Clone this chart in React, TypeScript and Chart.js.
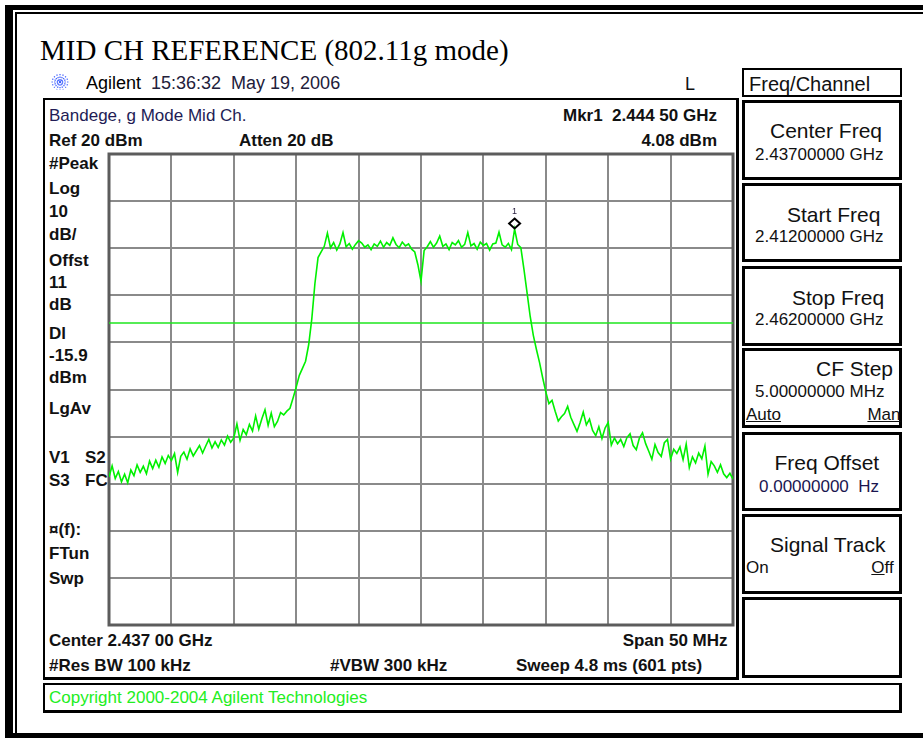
import React, { useEffect, useRef } from "react";
import { Chart, registerables } from "chart.js";

Chart.register(...registerables);

// ---- sweep settings ----
const START_MHZ = 2412;
const STOP_MHZ = 2462;
const STEP_MHZ = 0.25;
const GRID_FREQS_MHZ = [2412, 2417, 2422, 2427, 2432, 2437, 2442, 2447, 2452, 2457, 2462];
const REF_LEVEL_DBM = 20;
const BOTTOM_DBM = -80;
const GRID_LEVELS_DBM = [20, 10, 0, -10, -20, -30, -40, -50, -60, -70, -80];
const DISPLAY_LINE_DBM = -15.9;
const MARKER_FREQ_MHZ = 2444.5;
const MARKER_DBM = 4.08;

// ---- trace levels (dBm), one per 0.25 MHz from 2412 to 2462 MHz ----
const LEVELS_LEFT_SKIRT = [
  -48.6, -46.2, -48.9, -47.4, -49.6, -48.0, -49.8, -47.1, -48.3, -46.0,
  -47.6, -46.3, -47.9, -45.2, -46.8, -45.0, -46.5, -44.3, -45.7, -44.0,
  -45.1, -43.6, -47.6, -44.2, -43.3, -44.8, -42.6, -44.1, -43.0, -41.9,
  -43.5, -42.0, -40.6, -42.4, -41.1, -42.3, -40.7, -41.8, -39.9, -41.2,
  -40.3, -37.3, -40.8, -38.5, -39.6, -37.4, -38.8, -35.6, -38.4, -36.2,
  -34.3, -37.6, -35.0, -37.9, -36.8, -34.9, -35.4, -34.6, -34.0, -31.8,
];
const LEVELS_RISE = [-29.5, -27.0, -25.5, -24.0, -20.5, -15.0, -7.5, -2.0];
const LEVELS_PLATEAU = [
  -0.8, 0.4, 3.2, 0.1, 1.2, -0.4, 0.9, 3.3, 0.3, 1.0,
  -0.2, 0.8, 1.6, 1.1, 0.2, 0.7, -0.3, 0.9, 0.4, 1.5,
  0.2, 1.2, 0.6, 2.2, 0.8, 0.1, 1.3, 0.5, 0.9, -0.2,
  -0.8, -3.5, -7.0, -0.5, 0.3, 1.4, 0.2, 1.1, 2.6, 0.4,
  0.9, -0.3, 1.2, 0.7, 1.6, 0.2, 0.8, 3.3, 0.5, 1.0,
  -0.2, 1.3, 0.6, 1.0, -0.4, 0.9, 1.1, 3.4, 0.7, 0.2,
  1.0, -0.3, 4.08, 0.8, 0.1,
];
const LEVELS_FALL = [-4.5, -9.5, -14.5, -18.5, -21.5, -24.3, -27.5, -30.5];
const LEVELS_RIGHT_SKIRT = [
  -33.0, -32.3, -34.6, -36.7, -35.8, -35.1, -33.6, -35.9, -37.4, -38.9,
  -37.0, -34.8, -37.5, -36.3, -38.7, -39.8, -37.9, -40.4, -38.2, -37.0,
  -41.8, -40.3, -41.5, -40.6, -42.1, -40.2, -39.4, -41.9, -42.8, -40.3,
  -39.2, -41.5, -43.1, -44.8, -41.7, -43.4, -44.2, -41.3, -40.6, -44.8,
  -42.7, -43.6, -42.2, -44.9, -41.6, -46.6, -44.3, -45.6, -43.5, -44.7,
  -42.0, -48.0, -45.3, -46.2, -47.6, -46.0, -47.9, -48.7, -47.8, -49.0,
];
const LEVELS_DBM = [
  ...LEVELS_LEFT_SKIRT,
  ...LEVELS_RISE,
  ...LEVELS_PLATEAU,
  ...LEVELS_FALL,
  ...LEVELS_RIGHT_SKIRT,
];

const SANS = '"Liberation Sans", Arial, Helvetica, sans-serif';
const SERIF = '"Liberation Serif", "Times New Roman", serif';
const W = 923;
const H = 738;
const TRACE_GREEN = "#00f000";

type TP = {
  x: number;
  b: number;
  size?: number;
  bold?: boolean;
  color?: string;
  right?: boolean;
  serif?: boolean;
  underline?: boolean;
  children: React.ReactNode;
};

function T({ x, b, size = 17, bold = false, color = "#111", right = false, serif = false, underline = false, children }: TP) {
  const k = serif ? 0.8375 : 0.8465;
  const style: React.CSSProperties = {
    position: "absolute",
    top: b - size * k,
    fontFamily: serif ? SERIF : SANS,
    fontSize: size,
    lineHeight: `${size}px`,
    fontWeight: bold ? 700 : 400,
    color,
    whiteSpace: "pre",
    textDecoration: underline ? "underline" : "none",
  };
  if (right) style.right = W - x;
  else style.left = x;
  return <div style={style}>{children}</div>;
}

function Box({ l, t, r, b, w = 2, wr = 3 }: { l: number; t: number; r: number; b: number; w?: number; wr?: number }) {
  return (
    <div
      style={{
        position: "absolute",
        left: l,
        top: t,
        width: r - l,
        height: b - t,
        boxSizing: "border-box",
        borderStyle: "solid",
        borderColor: "#000",
        borderTopWidth: w,
        borderLeftWidth: w,
        borderRightWidth: wr,
        borderBottomWidth: wr,
        background: "#fff",
      }}
    />
  );
}

function Rect({ l, t, w, h, c = "#000" }: { l: number; t: number; w: number; h: number; c?: string }) {
  return <div style={{ position: "absolute", left: l, top: t, width: w, height: h, background: c }} />;
}

const markerPlugin = {
  id: "markerAndFrame",
  beforeDatasetsDraw(chart: any) {
    const { ctx, chartArea } = chart;
    ctx.save();
    ctx.strokeStyle = "#5c5c5c";
    ctx.lineWidth = 3;
    ctx.strokeRect(chartArea.left, chartArea.top, chartArea.right - chartArea.left, chartArea.bottom - chartArea.top);
    ctx.restore();
  },
  afterDatasetsDraw(chart: any) {
    const { ctx } = chart;
    const px = chart.scales.x.getPixelForValue(MARKER_FREQ_MHZ);
    const py = chart.scales.y.getPixelForValue(MARKER_DBM);
    const cy = py - 5.5;
    ctx.save();
    ctx.strokeStyle = "#000";
    ctx.lineWidth = 2;
    ctx.beginPath();
    ctx.moveTo(px, cy - 5);
    ctx.lineTo(px + 5.5, cy);
    ctx.lineTo(px, cy + 5);
    ctx.lineTo(px - 5.5, cy);
    ctx.closePath();
    ctx.stroke();
    ctx.fillStyle = "#2a2040";
    ctx.font = `9px ${SANS}`;
    ctx.textAlign = "center";
    ctx.textBaseline = "alphabetic";
    ctx.fillText("1", px, cy - 9);
    ctx.restore();
  },
};

function Spectrum() {
  const ref = useRef<HTMLCanvasElement | null>(null);
  useEffect(() => {
    if (!ref.current) return;
    const trace = LEVELS_DBM.map((v, i) => ({ x: START_MHZ + i * STEP_MHZ, y: v }));
    const dl = [
      { x: START_MHZ, y: DISPLAY_LINE_DBM },
      { x: STOP_MHZ, y: DISPLAY_LINE_DBM },
    ];
    const gridOpts = { color: "#8a8a8a", lineWidth: 2, drawTicks: false };
    const chart = new Chart(ref.current, {
      type: "line",
      data: {
        datasets: [
          { data: trace, borderColor: TRACE_GREEN, borderWidth: 1.6, pointRadius: 0, tension: 0, fill: false },
          { data: dl, borderColor: "#1ee61e", borderWidth: 1.5, pointRadius: 0, tension: 0, fill: false },
        ],
      },
      options: {
        responsive: false,
        animation: false,
        devicePixelRatio: 1,
        layout: { padding: 5 },
        plugins: { legend: { display: false }, tooltip: { enabled: false } },
        scales: {
          x: {
            type: "linear",
            min: START_MHZ,
            max: STOP_MHZ,
            afterBuildTicks: (axis: any) => {
              axis.ticks = GRID_FREQS_MHZ.map((v) => ({ value: v }));
            },
            ticks: { display: false },
            grid: gridOpts,
            border: { display: false },
          },
          y: {
            type: "linear",
            min: BOTTOM_DBM,
            max: REF_LEVEL_DBM,
            afterBuildTicks: (axis: any) => {
              axis.ticks = GRID_LEVELS_DBM.map((v) => ({ value: v }));
            },
            ticks: { display: false },
            grid: gridOpts,
            border: { display: false },
          },
        },
      } as any,
      plugins: [markerPlugin],
    });
    return () => chart.destroy();
  }, []);
  return (
    <canvas
      ref={ref}
      width={634}
      height={481}
      style={{ position: "absolute", left: 104, top: 149, width: 634, height: 481 }}
    />
  );
}

function Logo() {
  const lines = [0, 22.5, 45, 67.5, 90, 112.5, 135, 157.5];
  return (
    <svg style={{ position: "absolute", left: 50, top: 73 }} width={20} height={18} viewBox="0 0 20 18">
      {lines.map((a) => {
        const r = (a * Math.PI) / 180;
        const dx = Math.cos(r) * 8.5;
        const dy = Math.sin(r) * 8;
        return (
          <line
            key={a}
            x1={10 - dx}
            y1={9 - dy}
            x2={10 + dx}
            y2={9 + dy}
            stroke="#3a5cff"
            strokeWidth={1.2}
            strokeDasharray="1.3 1.3"
          />
        );
      })}
    </svg>
  );
}

export default function App() {
  const leftLabels: [string, number][] = [
    ["#Peak", 169],
    ["Log", 194],
    ["10", 217],
    ["dB/", 240.5],
    ["Offst", 266],
    ["11", 288],
    ["dB", 310],
    ["Dl", 339],
    ["-15.9", 361],
    ["dBm", 383],
    ["LgAv", 414],
    ["V1", 463],
    ["S3", 486.5],
    ["\u00a4(f):", 535],
    ["FTun", 559],
    ["Swp", 584],
  ];
  return (
    <div style={{ position: "fixed", left: 0, top: 0, width: W, height: H, background: "#fff", overflow: "hidden" }}>
      {/* outer frame */}
      <Rect l={5} t={5} w={918} h={5} />
      <Rect l={5} t={5} w={8} h={733} />
      <Rect l={15} t={12} w={908} h={2} />
      <Rect l={15} t={12} w={2} h={722} />
      <Rect l={5} t={733} w={918} h={5} />

      <T x={40} b={60} size={29} serif color="#000">MID CH REFERENCE (802.11g mode)</T>

      <Logo />
      <T x={86} b={89} size={18} color="#000">Agilent</T>
      <T x={151} b={89} size={18} color="#22203a">15:36:32  May 19, 2006</T>
      <T x={685} b={90.5} size={18} color="#111">L</T>

      {/* main analyzer panel */}
      <Box l={43} t={98} r={739} b={680} />
      <T x={49} b={121} color="#221c55">Bandege, g Mode Mid Ch.</T>
      <T x={49} b={146.5} bold>Ref 20 dBm</T>
      <T x={239} b={146.5} bold>Atten 20 dB</T>
      <T x={717} b={121.5} bold right>Mkr1  2.444 50 GHz</T>
      <T x={717} b={146.5} bold right>4.08 dBm</T>
      {leftLabels.map(([s, b]) => (
        <T key={s} x={49} b={b} bold>{s}</T>
      ))}
      <T x={85} b={463} bold>S2</T>
      <T x={85} b={486.5} bold>FC</T>

      <Spectrum />

      <T x={49} b={646.5} bold>Center 2.437 00 GHz</T>
      <T x={727.5} b={646.5} bold right>Span 50 MHz</T>
      <T x={49} b={671.7} bold>#Res BW 100 kHz</T>
      <T x={330} b={671.7} bold>#VBW 300 kHz</T>
      <T x={516} b={671.7} bold>Sweep 4.8 ms (601 pts)</T>

      {/* copyright bar */}
      <Box l={43} t={683} r={902} b={713} />
      <T x={49} b={703} color="#22ee22">Copyright 2000-2004 Agilent Technologies</T>

      {/* soft keys */}
      <Box l={742} t={68} r={902} b={97} w={2} wr={2} />
      <T x={749} b={91} size={20}>Freq/Channel</T>

      <Box l={742} t={100} r={902} b={180} w={3} wr={3} />
      <T x={770} b={138} size={21}>Center Freq</T>
      <T x={755} b={160}>2.43700000 GHz</T>

      <Box l={742} t={183} r={902} b={262} w={3} wr={3} />
      <T x={787} b={221.7} size={21}>Start Freq</T>
      <T x={755} b={242.7}>2.41200000 GHz</T>

      <Box l={742} t={266} r={902} b={346} w={3} wr={3} />
      <T x={792} b={305} size={21}>Stop Freq</T>
      <T x={755} b={325}>2.46200000 GHz</T>

      <Box l={742} t={348} r={902} b={428} w={3} wr={3} />
      <T x={816} b={376} size={21}>CF Step</T>
      <T x={755} b={397}>5.00000000 MHz</T>
      <T x={746} b={420} underline>Auto</T>
      <T x={900.5} b={420} right underline>Man</T>

      <Box l={742} t={432} r={902} b={511} w={3} wr={3} />
      <T x={774.5} b={470} size={21}>Freq Offset</T>
      <T x={759} b={492.7} color="#1a1650">0.00000000  Hz</T>

      <Box l={742} t={514} r={902} b={594} w={3} wr={3} />
      <T x={770} b={551.7} size={21}>Signal Track</T>
      <T x={746} b={573}>On</T>
      <T x={893.7} b={573} right>
        <span style={{ textDecoration: "underline" }}>O</span>ff
      </T>

      <Box l={742} t={597} r={902} b={678} w={3} wr={3} />
    </div>
  );
}
